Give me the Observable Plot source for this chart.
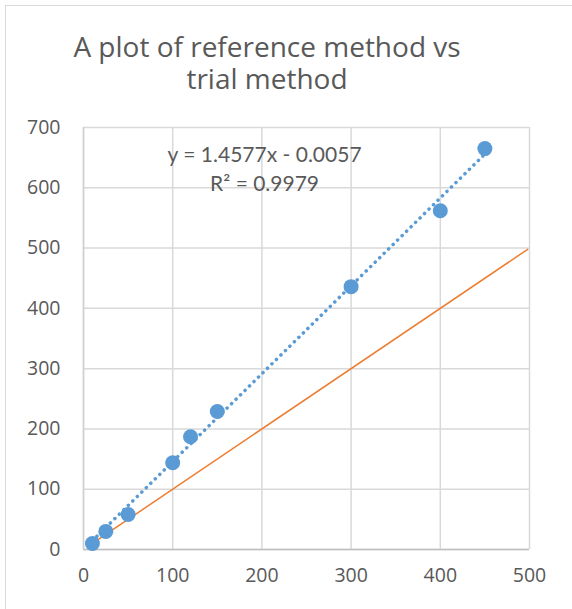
<!DOCTYPE html>
<html>
<head>
<meta charset="utf-8">
<script src="https://cdn.jsdelivr.net/npm/d3@7"></script>
<script src="https://cdn.jsdelivr.net/npm/@observablehq/plot@0.6"></script>
<style>
  html, body { margin: 0; padding: 0; background: #fff; }
  body { width: 572px; height: 609px; overflow: hidden; position: relative; }
  #frame { position: absolute; left: 5px; top: 5px; width: 600px; height: 640px; border: 1px solid #d9d9d9; box-sizing: border-box; }
  .title { position: absolute; left: 0; width: 534px; height: 32px; text-align: center; overflow: visible;
           font-family: "Open Sans", sans-serif; font-size: 28px; line-height: 32px; color: #595959; }
  #title1 { top: 30px; }
  #title2 { top: 62px; }
  #chart { position: absolute; left: 0; top: 110px; }
</style>
</head>
<body>
<div id="frame"></div>
<div class="title" id="title1">A plot of reference method vs</div>
<div class="title" id="title2">trial method</div>
<div id="chart"></div>
<script>
// Data
const trialMethod = [10, 25, 50, 100, 120, 150, 300, 400, 450];
const referenceMethod = [10, 30, 58, 144, 187, 229, 436, 562, 665];
// Trendline coefficients (shown on the chart)
const slope = 1.4577;
const intercept = -0.0057;
const rSquared = 0.9979;
const trendRange = [10, 450];
// 1:1 reference line
const identityRange = [10, 498];
// Tick labels
const xTicks = [0, 100, 200, 300, 400, 500];
const yTicks = [0, 100, 200, 300, 400, 500, 600, 700];

const points = trialMethod.map((x, i) => ({x, y: referenceMethod[i]}));
const trend = trendRange.map(x => ({x, y: slope * x + intercept}));
const identity = identityRange.map(x => ({x, y: x}));
const eqText = [
  {x: 203, y: 654, label: `y = ${slope}x - ${Math.abs(intercept).toFixed(4)}`},
  {x: 203, y: 606, label: `R² = ${rSquared}`}
];

const plot = Plot.plot({
  width: 572,
  height: 499,
  marginTop: 17,
  marginBottom: 60,
  marginLeft: 83,
  marginRight: 43,
  style: {fontFamily: "'Open Sans', sans-serif", fontSize: "19.5px", color: "#595959", background: "transparent"},
  x: {domain: [0, 500], ticks: xTicks, label: null},
  y: {domain: [0, 700], ticks: yTicks, label: null},
  marks: [
    Plot.gridX(xTicks, {stroke: "#d9d9d9", strokeOpacity: 1, strokeWidth: 1.5}),
    Plot.gridY(yTicks, {stroke: "#d9d9d9", strokeOpacity: 1, strokeWidth: 1.5}),
    Plot.ruleY([0], {stroke: "#bfbfbf", strokeWidth: 1.5}),
    Plot.ruleX([0], {stroke: "#d0d0d0", strokeWidth: 1.5}),
    Plot.axisX({ticks: xTicks, tickSize: 0, tickPadding: 19, fontSize: 19.5, fill: "#595959"}),
    Plot.axisY({ticks: yTicks, tickSize: 0, tickPadding: 23, fontSize: 19.5, fill: "#595959"}),
    Plot.line(identity, {x: "x", y: "y", stroke: "#ed7d31", strokeWidth: 1.5}),
    Plot.line(trend, {x: "x", y: "y", stroke: "#5b9bd5", strokeWidth: 3.5, strokeDasharray: "0.1 6.2", strokeLinecap: "round"}),
    Plot.dot(points, {x: "x", y: "y", r: 7.5, fill: "#5b9bd5", stroke: "none"}),
    Plot.text(eqText, {x: "x", y: "y", text: "label", fontSize: 21, fill: "#595959", fontFamily: "Lato, sans-serif"})
  ]
});
document.getElementById("chart").appendChild(plot);
</script>
</body>
</html>
